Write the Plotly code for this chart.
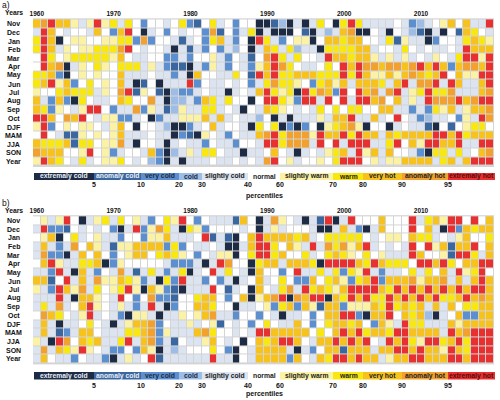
import plotly.graph_objects as go

# ---------------- data ----------------
years = list(range(1960, 2020))
rows = ["Nov", "Dec", "Jan", "Feb", "Mar", "Apr", "May", "Jun", "Jul", "Aug",
        "Sep", "Oct", "DJF", "MAM", "JJA", "SON", "Year"]
year_ticks = [1960, 1970, 1980, 1990, 2000, 2010]

categories = ["extremaly cold", "anomaly cold", "very cold", "cold", "slightly cold",
              "normal", "slightly warm", "warm", "very hot", "anomaly hot", "extremaly hot"]
percentiles = [5, 10, 20, 30, 40, 60, 70, 80, 90, 95]
cat_colors = ["#1d2b44", "#3b67a0", "#5b8fd0", "#9dbde6", "#dbe4f0", "#ffffff",
              "#fbf2a4", "#f9e80f", "#f8c21c", "#f2a02e", "#e7302f"]
cat_text_colors = ["#e8eef6", "#e8eef6", "#1d2b44", "#1d2b44", "#222222", "#222222",
                   "#222222", "#222222", "#222222", "#222222", "#5a0a0a"]

# category codes (0 = extremaly cold ... 10 = extremaly hot), one list per row
panel_a = [
    [8,9,10,8,8,6,4,6,10,6,7,4,7,5,2,5,5,4,5, 7,2,1,5,7,4,5,2,5,5,0,0,1,3,0,4,0,4,7,5, 0,7,10,7,4,4,4,4,5,4,2,3,4,5,6,8,5,8,4,4,10],
    [4,10,8,5,4,5,5,4,8,5,2,8,10,5,0,4,5,2,5, 4,5,5,2,9,1,5,2,4,7,0,4,0,0,0,5,1,0,4,3, 4,8,9,0,0,5,4,0,5,4,3,1,0,4,0,5,1,8,7,5,4],
    [7,10,8,0,5,6,6,5,5,6,6,7,7,2,9,2,5,5,4, 1,4,5,2,7,8,4,2,5,0,10,7,4,2,5,6,6,0,5,8, 8,7,8,8,5,5,4,7,1,6,4,4,0,2,5,5,4,7,8,7,6],
    [7,10,8,4,6,5,6,6,7,7,7,9,10,5,4,5,5,4,0, 4,1,4,2,5,2,4,3,5,0,4,8,7,4,7,3,4,4,0,7, 7,7,7,8,8,4,5,5,4,7,5,4,5,4,4,5,4,10,8,8,8],
    [5,10,7,5,6,7,7,7,7,7,6,8,5,4,4,5,5,2,2, 4,2,5,5,6,4,2,5,4,1,5,9,10,7,4,7,5,5,4,10, 8,8,7,8,8,6,4,6,4,6,4,5,4,6,5,4,7,10,10,6,10],
    [5,10,8,9,0,4,6,5,7,6,5,7,7,7,4,6,4,2,1, 1,0,4,2,6,4,2,5,4,2,6,8,10,9,7,5,4,4,5,7, 5,10,8,10,9,9,8,9,9,8,9,10,8,10,8,2,8,9,9,8,10],
    [7,7,8,2,0,5,6,5,6,5,5,8,4,4,4,5,4,4,2, 4,0,8,5,5,4,4,7,5,1,10,8,10,7,7,8,8,8,7,7, 7,10,7,10,8,6,6,8,6,8,9,8,7,8,10,5,8,6,6,10,10],
    [7,8,10,6,8,2,5,7,5,6,5,8,4,0,1,5,0,4,4, 4,10,2,5,4,4,5,4,5,2,4,7,9,7,7,6,5,2,7,8, 6,8,4,8,8,8,7,4,8,10,4,9,9,10,4,10,8,4,4,8,10],
    [6,5,5,7,8,7,7,7,4,6,5,9,10,1,6,5,1,0,3, 2,2,4,5,4,4,0,4,5,4,8,10,7,6,7,0,10,7,9,8, 2,10,5,10,8,9,4,9,10,4,6,7,10,7,7,9,4,4,4,8,9],
    [8,4,2,8,2,0,7,5,4,4,5,8,7,5,5,9,4,0,3, 3,4,2,8,7,4,7,5,5,0,5,10,10,7,6,2,10,10,4,10, 5,10,4,10,10,8,9,5,8,4,6,4,10,9,9,9,10,8,9,10,10],
    [8,7,2,6,5,4,6,10,10,5,2,4,4,9,2,6,4,1,3, 6,4,4,7,7,4,5,4,0,5,4,8,7,6,5,4,5,4,7,5, 7,5,7,7,5,5,8,8,4,4,2,4,2,7,6,8,4,6,8,8,9],
    [10,10,8,5,9,8,10,5,4,6,6,2,2,4,5,0,2,4,4, 6,6,6,8,4,8,4,5,4,4,3,5,0,4,0,4,4,4,6,4, 8,8,10,4,4,8,4,5,10,5,4,2,3,4,4,5,2,6,4,10,9],
    [6,10,2,5,6,5,6,6,5,4,6,8,5,0,5,5,4,3,0, 0,2,4,5,8,4,5,5,4,0,7,5,7,0,2,0,2,5,0,6, 7,8,9,6,0,5,5,0,4,5,4,4,1,0,5,1,5,6,7,7,5],
    [5,10,5,4,1,1,6,5,6,5,6,8,4,4,4,5,4,4,0, 2,1,0,6,5,4,2,5,4,4,8,9,10,7,9,9,9,6,10,8, 8,10,7,10,8,8,4,8,7,8,8,8,8,10,10,8,10,7,8,8,8],
    [8,7,7,7,8,1,7,7,5,6,6,9,4,0,5,5,4,0,4, 5,4,4,2,5,4,4,2,5,5,4,10,10,7,9,9,9,4,10,5, 10,4,10,10,10,4,4,7,10,5,8,6,10,10,8,8,10,4,4,10,10],
    [9,8,8,8,5,5,6,10,5,6,2,4,5,5,4,8,2,0,3, 4,6,4,7,7,5,4,4,0,4,4,5,8,5,4,0,4,5,4,6, 7,8,4,10,6,8,4,8,5,5,4,2,0,7,7,4,7,4,5,8,9],
    [6,10,8,7,5,4,7,4,5,6,6,7,5,4,5,3,2,0,4, 0,4,4,4,5,4,4,5,4,5,4,9,10,5,6,4,5,5,6,5, 7,10,10,10,5,6,4,6,6,8,8,8,8,4,7,8,4,8,10,10,10],
]

panel_b = [
    [5,6,4,6,10,5,0,4,6,7,4,7,5,6,4,2,5,7,6, 10,5,2,5,4,4,4,1,8,5,0,4,9,6,5,4,0,4,1,10, 0,4,10,5,5,5,8,5,5,5,10,4,7,8,6,10,10,5,10,5,8],
    [4,10,2,2,1,5,4,5,4,5,2,0,4,10,2,6,9,7,4, 0,7,6,2,5,5,5,5,4,5,0,4,6,4,5,5,5,4,0,0, 4,8,4,2,0,4,8,5,5,5,10,5,8,4,0,10,2,8,7,8,8],
    [5,6,8,0,5,7,4,5,6,4,4,2,5,5,2,6,6,8,4, 4,4,5,10,1,4,1,0,5,8,10,8,8,8,8,7,8,4,5,7, 7,7,7,7,5,4,5,6,6,5,8,7,7,4,5,4,6,8,5,5,7],
    [4,8,4,2,4,9,5,8,6,4,1,6,6,8,8,8,8,2,7, 2,5,4,4,5,4,0,0,4,8,10,10,7,5,8,6,4,10,4,9, 7,9,6,8,10,4,5,4,5,4,10,5,10,6,8,1,8,8,10,5,8],
    [4,9,2,2,0,4,8,5,8,5,2,5,6,8,8,5,7,8,7, 6,5,2,5,4,6,6,0,5,7,10,10,7,8,5,5,7,4,5,7, 8,7,6,5,7,5,6,4,4,4,10,8,5,5,6,1,10,10,7,4,8],
    [5,8,10,6,4,4,7,7,8,0,2,6,5,5,5,5,5,4,2, 2,2,4,0,4,10,9,5,5,0,7,8,8,4,8,8,8,7,0,10, 10,10,10,8,7,10,8,7,7,7,5,10,10,8,10,7,5,8,8,10,10],
    [4,4,2,10,4,0,8,4,2,5,4,9,4,1,4,7,4,2,4, 7,0,4,5,10,4,7,5,4,0,8,5,5,2,5,10,4,4,7,4, 7,2,7,6,10,4,2,4,4,5,7,4,7,5,8,4,10,6,7,10,5],
    [8,8,1,5,10,4,8,4,9,6,6,8,7,6,2,4,0,7,2, 10,4,4,2,5,2,4,0,4,5,8,4,5,7,5,2,2,8,5,7, 8,6,2,7,8,10,2,8,8,8,9,6,8,8,9,4,8,4,8,10,8],
    [6,4,2,10,8,6,9,4,7,5,6,7,10,6,0,8,6,2,1, 0,4,4,4,10,5,1,4,5,0,8,5,4,7,9,4,10,7,8,7, 6,8,10,10,10,10,8,7,10,8,10,8,10,8,10,8,10,8,10,10,8],
    [4,4,4,10,4,0,8,8,6,5,4,10,5,2,5,9,2,2,1, 5,5,7,8,8,5,2,5,8,0,6,8,9,10,0,9,8,10,10,0, 8,7,10,8,10,7,7,10,8,10,8,10,8,10,7,7,8,10,8,9,8],
    [4,7,4,9,4,5,8,10,6,5,4,6,4,2,4,10,4,0,2, 5,5,8,8,7,5,5,0,4,4,5,6,2,7,8,2,8,6,1,8, 8,2,6,6,6,8,7,10,7,8,7,8,4,8,4,8,5,7,7,8,8],
    [5,9,8,7,5,4,6,10,4,5,4,2,0,6,6,4,0,4,4, 6,5,6,8,9,4,4,2,5,5,2,5,4,0,4,4,5,2,5,8, 8,10,10,2,0,8,8,10,5,8,7,8,3,0,4,5,8,2,2,8,8],
    [4,8,4,0,4,4,5,7,5,4,0,4,6,8,8,9,2,5,4, 4,6,4,5,6,1,5,4,5,2,5,7,5,4,4,8,5,2,5,7, 8,8,7,8,5,2,8,6,4,10,7,7,4,4,4,8,6,8,8,8,8],
    [4,8,4,1,2,4,8,8,5,4,4,4,7,7,8,9,2,6,4, 4,4,8,9,7,5,5,4,5,4,10,10,8,8,8,8,8,5,7,5, 8,10,8,10,7,8,8,7,10,10,8,8,8,8,4,10,8,9,10,10,10],
    [6,4,0,10,9,5,8,7,8,4,4,7,10,4,8,9,2,4,1, 5,4,4,6,8,5,4,5,0,5,8,7,8,10,10,8,5,4,8,8, 10,8,10,8,10,5,4,10,8,10,7,6,10,10,7,8,10,7,10,10,10],
    [4,9,4,8,7,6,10,6,5,4,2,2,5,2,8,6,0,4,3, 4,5,5,5,7,5,2,0,5,4,8,8,8,8,4,0,4,2,5,8, 8,1,8,8,8,4,8,8,10,10,8,10,8,8,6,10,8,7,10,10,10],
    [4,8,5,4,4,2,5,4,4,2,0,4,6,4,5,10,1,4,4, 4,4,4,4,10,4,4,0,5,4,8,8,8,8,2,8,5,4,8,7, 10,10,8,10,8,8,4,6,8,8,10,10,8,8,8,10,10,8,10,10,10],
]

# ---------------- styling / layout ----------------
W, H = 500, 400
FONT = "Arial, Liberation Sans, sans-serif"

def px_x(x):
    return x / W

def px_y(y):
    return 1 - y / H

# discrete colour scale
n = len(cat_colors)
colorscale = []
for i, c in enumerate(cat_colors):
    colorscale.append([i / n, c])
    colorscale.append([(i + 1) / n, c])

grid_x = (33, 494)
panels = [
    dict(data=panel_a, top=18.3, bottom=167.0, label="a)", label_y=4.8, years_y=12.8,
         bar=(173.0, 180.0), num_y=184.5, pct_y=195.5),
    dict(data=panel_b, top=215.2, bottom=364.4, label="b)", label_y=202.8, years_y=210.6,
         bar=(372.0, 379.5), num_y=385.0, pct_y=393.5),
]
seg_bounds = [34, 94, 141, 179, 202, 248, 280, 333, 363, 402, 448, 495]

fig = go.Figure()
annotations = []
shapes = []

for k, p in enumerate(panels):
    sfx = "" if k == 0 else str(k + 1)
    fig.add_trace(go.Heatmap(
        z=p["data"], x=years, y=rows,
        xaxis="x" + sfx, yaxis="y" + sfx,
        colorscale=colorscale, zmin=-0.5, zmax=n - 0.5,
        showscale=False, xgap=1, ygap=1, hoverinfo="skip",
    ))
    fig.update_layout(**{
        "xaxis" + sfx: dict(domain=[px_x(grid_x[0]), px_x(grid_x[1])],
                            anchor="y" + sfx, side="top", automargin=False,
                            tickvals=year_ticks, ticks="", showgrid=False,
                            zeroline=False, showline=False,
                            tickfont=dict(family=FONT, size=6.5, color="#111", weight="bold"),
                            ticklabelstandoff=0),
        "yaxis" + sfx: dict(domain=[px_y(p["bottom"]), px_y(p["top"])],
                            anchor="x" + sfx, autorange="reversed", automargin=False,
                            showticklabels=False, ticks="", showgrid=False,
                            zeroline=False, showline=False, type="category"),
    })
    # row labels
    for r in rows:
        annotations.append(dict(x=px_x(13.5), xref="paper", y=r, yref="y" + sfx,
                                text=r, showarrow=False, xanchor="center",
                                font=dict(family=FONT, size=7, color="#111", weight="bold")))
    annotations.append(dict(x=px_x(13.5), xref="paper", y=px_y(p["years_y"]), yref="paper",
                            text="Years", showarrow=False, xanchor="center", yanchor="middle",
                            font=dict(family=FONT, size=6.8, color="#111", weight="bold")))
    annotations.append(dict(x=px_x(0), xref="paper", y=px_y(p["label_y"]), yref="paper",
                            text=p["label"], showarrow=False, xanchor="left", yanchor="middle",
                            font=dict(family=FONT, size=8.5, color="#111")))
    # category key
    b0, b1 = p["bar"]
    for i, name in enumerate(categories):
        x0, x1 = seg_bounds[i], seg_bounds[i + 1]
        shapes.append(dict(type="rect", xref="paper", yref="paper",
                           x0=px_x(x0), x1=px_x(x1), y0=px_y(b1), y1=px_y(b0),
                           fillcolor=cat_colors[i], line=dict(width=0), layer="below"))
        annotations.append(dict(x=px_x((x0 + x1) / 2), xref="paper",
                                y=px_y((b0 + b1) / 2), yref="paper",
                                text=name, showarrow=False, xanchor="center", yanchor="middle",
                                font=dict(family=FONT, size=6.8, color=cat_text_colors[i],
                                          weight="bold")))
    for j, pc in enumerate(percentiles):
        annotations.append(dict(x=px_x(seg_bounds[j + 1]), xref="paper",
                                y=px_y(p["num_y"]), yref="paper",
                                text=str(pc), showarrow=False, xanchor="center", yanchor="middle",
                                font=dict(family=FONT, size=7, color="#111", weight="bold")))
    annotations.append(dict(x=px_x(264), xref="paper", y=px_y(p["pct_y"]), yref="paper",
                            text="percentiles", showarrow=False, xanchor="center",
                            yanchor="middle",
                            font=dict(family=FONT, size=7, color="#111", weight="bold")))

fig.update_layout(
    width=W, height=H,
    margin=dict(l=0, r=0, t=0, b=0),
    paper_bgcolor="white", plot_bgcolor="#d4d4d4",
    annotations=annotations, shapes=shapes,
    showlegend=False,
)

fig.write_html("out.html", config={"displayModeBar": False},
               post_script="document.body.style.margin='0px';")
